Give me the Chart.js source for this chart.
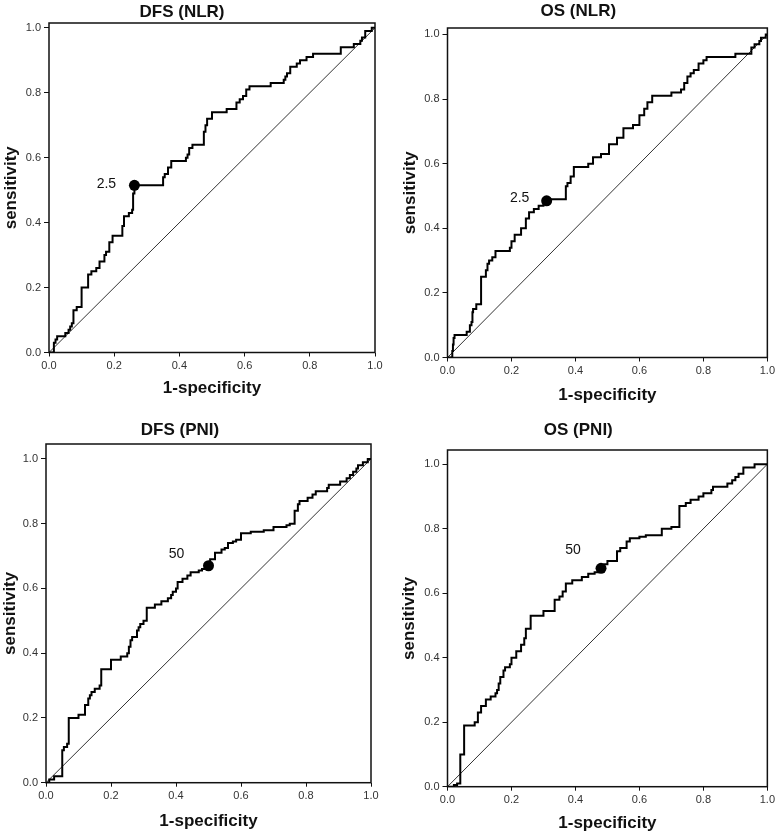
<!DOCTYPE html>
<html>
<head>
<meta charset="utf-8">
<script src="https://cdn.jsdelivr.net/npm/chart.js@4/dist/chart.umd.min.js"></script>
<style>
  html, body { margin: 0; padding: 0; background: #fff; width: 778px; height: 834px; overflow: hidden; }
  canvas { position: absolute; }
</style>
</head>
<body>
<canvas id="c0"></canvas>
<canvas id="c1"></canvas>
<canvas id="c2"></canvas>
<canvas id="c3"></canvas>
<script>
// ---------------- data ----------------
const panelTitles = ['DFS (NLR)', 'OS (NLR)', 'DFS (PNI)', 'OS (PNI)'];
const xAxisTitle = '1-specificity';
const yAxisTitle = 'sensitivity';
const tickValues = [0.0, 0.2, 0.4, 0.6, 0.8, 1.0];
const chanceLine = [0, 1];

// ROC step corners: at fpr[i] the curve rises to tpr[i]
const dfsNlrFpr = [0,0.015,0.02,0.025,0.05,0.06,0.065,0.07,0.075,0.085,0.1,0.12,0.13,0.145,0.155,0.17,0.175,0.185,0.195,0.225,0.23,0.245,0.255,0.258,0.262,0.35,0.355,0.365,0.375,0.42,0.425,0.43,0.44,0.475,0.48,0.485,0.5,0.545,0.575,0.585,0.595,0.605,0.615,0.68,0.72,0.725,0.73,0.74,0.76,0.77,0.79,0.81,0.895,0.935,0.955,0.96,0.97,0.99,1.0];
const dfsNlrTpr = [0,0.03,0.04,0.05,0.06,0.07,0.08,0.09,0.13,0.14,0.2,0.24,0.25,0.26,0.28,0.30,0.31,0.34,0.36,0.39,0.42,0.43,0.44,0.49,0.515,0.54,0.55,0.57,0.59,0.60,0.61,0.63,0.64,0.68,0.70,0.72,0.74,0.75,0.77,0.78,0.79,0.81,0.82,0.83,0.84,0.85,0.86,0.88,0.89,0.90,0.91,0.92,0.94,0.95,0.96,0.97,0.99,1.0,1.0];

const osNlrFpr = [0,0.015,0.017,0.019,0.022,0.06,0.07,0.075,0.078,0.08,0.09,0.105,0.12,0.125,0.13,0.14,0.15,0.195,0.2,0.21,0.23,0.245,0.255,0.27,0.285,0.3,0.315,0.37,0.375,0.385,0.395,0.44,0.455,0.48,0.505,0.53,0.55,0.58,0.6,0.615,0.625,0.64,0.7,0.73,0.74,0.75,0.76,0.77,0.785,0.8,0.81,0.9,0.95,0.96,0.975,0.98,0.995,1.0];
const osNlrTpr = [0,0.02,0.04,0.06,0.07,0.08,0.10,0.11,0.14,0.15,0.165,0.25,0.27,0.29,0.30,0.31,0.33,0.34,0.36,0.38,0.40,0.43,0.45,0.46,0.47,0.48,0.49,0.53,0.54,0.56,0.59,0.60,0.62,0.63,0.66,0.68,0.71,0.72,0.75,0.77,0.79,0.81,0.82,0.83,0.85,0.87,0.88,0.89,0.91,0.92,0.93,0.94,0.96,0.97,0.98,0.99,1.0,1.0];

const dfsPniFpr = [0,0.01,0.025,0.05,0.055,0.065,0.07,0.1,0.12,0.13,0.135,0.14,0.15,0.165,0.17,0.2,0.23,0.25,0.255,0.26,0.265,0.28,0.285,0.29,0.3,0.31,0.335,0.355,0.375,0.385,0.39,0.4,0.405,0.42,0.435,0.445,0.47,0.48,0.49,0.505,0.52,0.54,0.55,0.56,0.575,0.585,0.6,0.63,0.67,0.7,0.74,0.75,0.765,0.775,0.78,0.805,0.82,0.83,0.865,0.87,0.905,0.925,0.935,0.945,0.955,0.96,0.975,0.99,1.0];
const dfsPniTpr = [0,0.01,0.02,0.10,0.11,0.12,0.20,0.21,0.24,0.26,0.27,0.28,0.29,0.30,0.35,0.38,0.39,0.40,0.42,0.44,0.45,0.47,0.48,0.49,0.50,0.54,0.55,0.56,0.57,0.58,0.59,0.60,0.62,0.63,0.64,0.65,0.655,0.66,0.67,0.69,0.71,0.72,0.725,0.74,0.745,0.75,0.77,0.775,0.78,0.79,0.795,0.80,0.84,0.86,0.87,0.88,0.89,0.90,0.91,0.92,0.93,0.94,0.95,0.96,0.97,0.98,0.99,1.0,1.0];

const osPniFpr = [0,0.02,0.03,0.04,0.052,0.085,0.095,0.105,0.12,0.135,0.15,0.155,0.16,0.165,0.175,0.18,0.195,0.2,0.215,0.23,0.24,0.245,0.26,0.3,0.335,0.35,0.36,0.37,0.39,0.42,0.44,0.46,0.47,0.49,0.5,0.53,0.54,0.56,0.57,0.6,0.62,0.67,0.7,0.725,0.745,0.76,0.785,0.8,0.825,0.83,0.875,0.89,0.9,0.91,0.925,0.96,1.0];
const osPniTpr = [0,0.005,0.01,0.10,0.19,0.20,0.23,0.25,0.27,0.28,0.29,0.30,0.32,0.34,0.36,0.37,0.38,0.40,0.42,0.44,0.46,0.49,0.53,0.545,0.58,0.59,0.605,0.63,0.64,0.65,0.66,0.665,0.675,0.69,0.70,0.73,0.74,0.76,0.77,0.775,0.78,0.80,0.805,0.87,0.88,0.89,0.90,0.91,0.92,0.93,0.94,0.95,0.96,0.97,0.99,1.0,1.0];

const cutoffLabels = ['2.5', '2.5', '50', '50'];
const cutoffFpr = [0.262, 0.31, 0.5, 0.48];
const cutoffTpr = [0.515, 0.485, 0.67, 0.677];

const seriesFpr = [dfsNlrFpr, osNlrFpr, dfsPniFpr, osPniFpr];
const seriesTpr = [dfsNlrTpr, osNlrTpr, dfsPniTpr, osPniTpr];

// ---------------- layout (positions / sizes only) ----------------
const layouts = [
  {left:0,   top:0,   w:389, h:405, padL:0,  padT:23, padR:14,  yW:49,   xH:52.5, yMax:1.015, xtPad:6.8, ytPad:1.5, titleX:182,   titleY:12,   dx:-28, dy:-1},
  {left:389, top:0,   w:389, h:410, padL:10, padT:28, padR:8.5, yW:48.5, xH:52.5, yMax:1.02,  xtPad:4.8, ytPad:0.8, titleX:189.3, titleY:11.7, dx:-27, dy:-3},
  {left:0,   top:410, w:389, h:424, padL:0,  padT:34, padR:18,  yW:46,   xH:51.3, yMax:1.046, xtPad:2.8, ytPad:0,   titleX:180,   titleY:20.7, dx:-32, dy:-12},
  {left:389, top:410, w:389, h:424, padL:10, padT:40, padR:8.5, yW:48.5, xH:47.3, yMax:1.044, xtPad:0,   ytPad:0,   titleX:189.3, titleY:20,   dx:-28, dy:-18}
];

const FAMILY = '"Liberation Sans", Arial, Helvetica, sans-serif';

const rocPlugin = {
  id: 'rocFrame',
  beforeDatasetsDraw(chart, args, opts) {
    const {ctx, chartArea: a} = chart;
    ctx.save();
    ctx.strokeStyle = '#111';
    ctx.lineWidth = 1.5;
    ctx.strokeRect(a.left, a.top, a.right - a.left, a.bottom - a.top);
    ctx.restore();
  },
  afterDraw(chart, args, opts) {
    const {ctx} = chart;
    ctx.save();
    ctx.fillStyle = '#111';
    ctx.textAlign = 'center';
    ctx.textBaseline = 'middle';
    ctx.font = 'bold 17px ' + FAMILY;
    ctx.fillText(opts.title, opts.titleX, opts.titleY);
    ctx.font = '14px ' + FAMILY;
    const xs = chart.scales.x, ys = chart.scales.y;
    ctx.fillText(opts.cutLabel, xs.getPixelForValue(opts.cutX) + opts.dx, ys.getPixelForValue(opts.cutY) + opts.dy);
    ctx.restore();
  }
};

function toPoints(xs, ys) { return xs.map((x, i) => ({x: x, y: ys[i]})); }

layouts.forEach((L, p) => {
  const cv = document.getElementById('c' + p);
  cv.width = L.w; cv.height = L.h;
  cv.style.left = L.left + 'px'; cv.style.top = L.top + 'px';
  cv.style.width = L.w + 'px'; cv.style.height = L.h + 'px';

  new Chart(cv, {
    type: 'line',
    data: {
      datasets: [
        {
          type: 'scatter',
          data: [{x: cutoffFpr[p], y: cutoffTpr[p]}],
          pointRadius: 5.5, pointHoverRadius: 5.5,
          backgroundColor: '#000', borderColor: '#000', borderWidth: 0
        },
        {
          data: toPoints(seriesFpr[p], seriesTpr[p]),
          borderColor: '#000', borderWidth: 2, pointRadius: 0,
          stepped: true, fill: false, tension: 0
        },
        {
          data: toPoints(chanceLine, chanceLine),
          borderColor: '#333', borderWidth: 1, pointRadius: 0, fill: false, tension: 0
        }
      ]
    },
    options: {
      responsive: false,
      animation: false,
      devicePixelRatio: 1,
      events: [],
      layout: { padding: {left: L.padL, top: L.padT, right: L.padR, bottom: 0} },
      plugins: {
        legend: {display: false},
        tooltip: {enabled: false},
        title: {display: false},
        rocFrame: {
          title: panelTitles[p], titleX: L.titleX, titleY: L.titleY,
          cutLabel: cutoffLabels[p], cutX: cutoffFpr[p], cutY: cutoffTpr[p], dx: L.dx, dy: L.dy
        }
      },
      scales: {
        x: {
          type: 'linear', min: 0, max: 1,
          afterBuildTicks: s => { s.ticks = tickValues.map(v => ({value: v})); },
          afterFit: s => { s.height = L.xH; },
          ticks: {
            callback: v => Number(v).toFixed(1),
            font: {size: 11, family: FAMILY}, color: '#333', padding: 3,
            maxRotation: 0, autoSkip: false
          },
          grid: {drawOnChartArea: false, drawTicks: true, tickLength: 4, color: '#111', lineWidth: 1},
          border: {display: false},
          title: {display: true, text: xAxisTitle, color: '#111',
                  font: {size: 17, weight: 'bold', family: FAMILY},
                  padding: {top: 0, bottom: L.xtPad}}
        },
        y: {
          type: 'linear', min: 0, max: L.yMax,
          afterBuildTicks: s => { s.ticks = tickValues.map(v => ({value: v})); },
          afterFit: s => { s.width = L.yW; },
          ticks: {
            callback: v => Number(v).toFixed(1),
            font: {size: 11, family: FAMILY}, color: '#333', padding: 3
          },
          grid: {drawOnChartArea: false, drawTicks: true, tickLength: 5, color: '#111', lineWidth: 1},
          border: {display: false},
          title: {display: true, text: yAxisTitle, color: '#111',
                  font: {size: 17, weight: 'bold', family: FAMILY},
                  padding: {top: L.ytPad, bottom: 0}}
        }
      }
    },
    plugins: [rocPlugin]
  });
});
</script>
</body>
</html>
